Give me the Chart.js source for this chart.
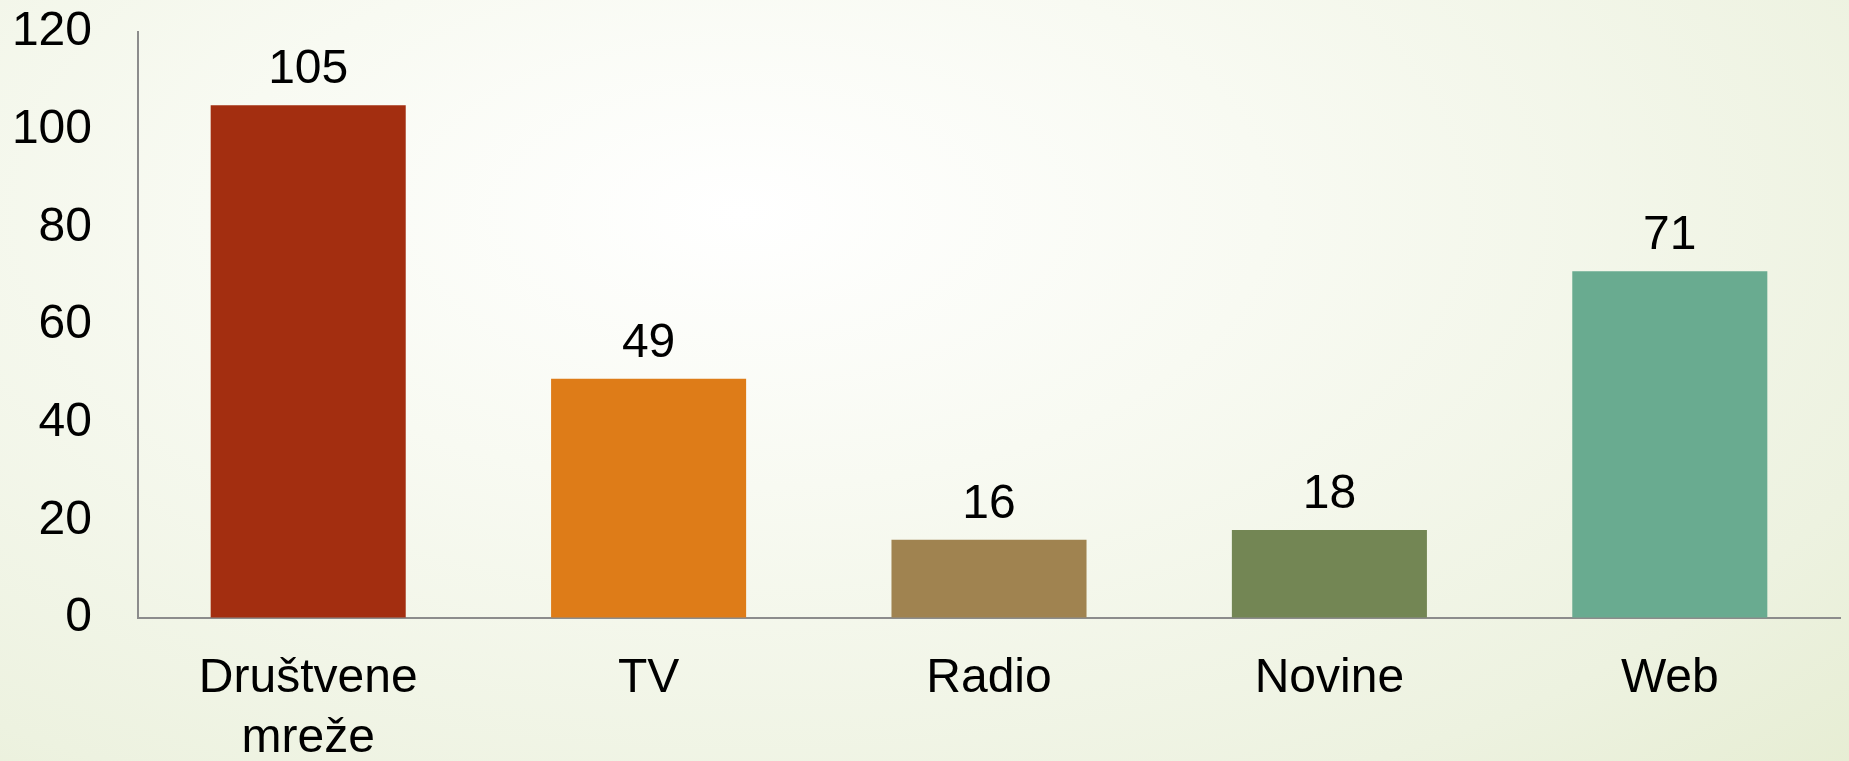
<!DOCTYPE html>
<html>
<head>
<meta charset="utf-8">
<script src="https://cdn.jsdelivr.net/npm/chart.js@4"></script>
<style>
html,body{margin:0;padding:0;}
body{
width:1849px;height:761px;overflow:hidden;
background:radial-gradient(ellipse 95% 120% at 40% 28%, #ffffff 0%, #f8faf2 30%, #edf2e0 70%, #e2eacb 100%);
}
canvas{display:block;}
</style>
</head>
<body>
<canvas id="mediaChart" width="1849" height="761"></canvas>
<script>

const categories=[["Društvene","mreže"],"TV","Radio","Novine","Web"];
const values=[105,49,16,18,71];
const barColors=["#a32e10","#de7c18","#a08350","#738654","#69ab90"];
const yTicks=[0,20,40,60,80,100,120];

const fontFamily="'Liberation Sans', Arial, sans-serif";
const fontSize=48;

// draws the number above each bar
const valueLabels={
id:"valueLabels",
afterDatasetsDraw(chart){
const ctx=chart.ctx;
const meta=chart.getDatasetMeta(0);
ctx.save();
ctx.font=fontSize+"px "+fontFamily;
ctx.fillStyle="#000000";
ctx.textAlign="center";
ctx.textBaseline="alphabetic";
meta.data.forEach((bar,i)=>{
ctx.fillText(String(values[i]),bar.x,bar.y-22);
});
ctx.restore();
}
};

let ctx=document.getElementById("mediaChart");

new Chart(ctx,{
type:"bar",
data:{
labels:categories,
datasets:[{
data:values,
backgroundColor:barColors,
borderWidth:0,
barPercentage:0.573,
categoryPercentage:1
}]
},
options:{
responsive:false,
animation:false,
layout:{
padding:{top:32,right:9,bottom:0,left:0}
},
plugins:{
legend:{display:false},
tooltip:{enabled:false}
},
scales:{
x:{
grid:{display:true,color:"rgba(0,0,0,0)",drawTicks:false},
border:{display:true,color:"#8c8c8c",width:2},
ticks:{
color:"#000000",
padding:31,
maxRotation:0,
autoSkip:false,
font:{family:fontFamily,size:fontSize,lineHeight:1.25}
},
afterFit(scale){scale.height=143;}
},
y:{
min:0,
max:120,
// tick marks kept invisible, their length gives the gap to the labels
grid:{display:true,color:"rgba(0,0,0,0)",drawTicks:true,tickLength:46,tickColor:"rgba(0,0,0,0)"},
border:{display:true,color:"#8c8c8c",width:2},
afterBuildTicks(scale){
scale.ticks=yTicks.map(v=>({value:v}));
},
ticks:{
color:"#000000",
padding:0,
font:{family:fontFamily,size:fontSize}
},
afterFit(scale){scale.width=138;}
}
}
},
plugins:[valueLabels]
});

</script>
</body>
</html>
